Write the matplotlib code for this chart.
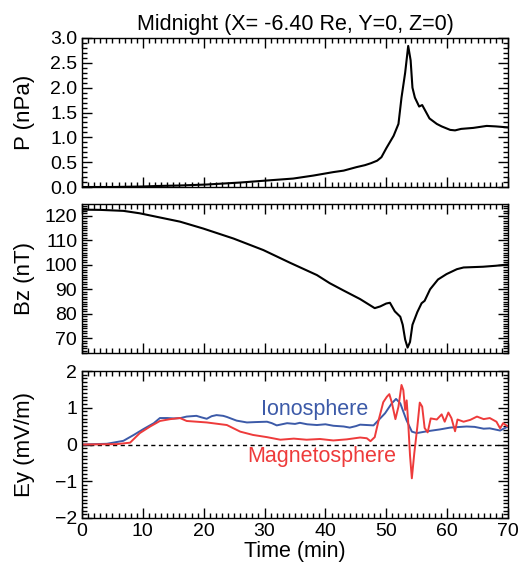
import matplotlib
matplotlib.use("Agg")
import matplotlib.pyplot as plt
from matplotlib.ticker import MultipleLocator

plt.rcParams['font.family'] = ['Liberation Sans', 'DejaVu Sans']

# ---------------- data ----------------
p_time = [0, 5, 10, 12.3, 16, 20.5, 26, 30.3, 34.7, 38, 41.3, 43, 45.1, 46.5, 47.5,
          48.5, 49.2, 50, 51.2, 52, 52.5, 53.1, 53.6, 54, 54.3, 54.7, 55.4, 55.9,
          56.3, 57.1, 58.3, 59.1, 60.5, 61.3, 62.3, 64.3, 66.5, 68, 70]
p_vals = [0.0, 0.0, 0.01, 0.02, 0.03, 0.05, 0.09, 0.13, 0.17, 0.23, 0.30, 0.33, 0.40,
          0.44, 0.48, 0.53, 0.60, 0.78, 1.03, 1.27, 1.80, 2.30, 2.84, 2.55, 2.00,
          1.80, 1.62, 1.65, 1.56, 1.38, 1.27, 1.22, 1.15, 1.14, 1.17, 1.19, 1.23,
          1.22, 1.20]

bz_time = [0, 3, 6.8, 9.5, 12.8, 16.1, 19.9, 24.9, 29.8, 34.2, 38.6, 40.7, 42.9, 45.7,
           48.1, 49.0, 50.0, 50.6, 51.4, 52.3, 52.7, 53.1, 53.5, 53.9, 54.3, 55.1,
           55.8, 56.3, 57.2, 58.5, 59.9, 61.6, 62.7, 65.9, 68, 70]
bz_vals = [122.5, 122.4, 122.0, 121.0, 119.3, 117.6, 114.8, 110.7, 106.0, 100.8, 95.8,
           92.5, 89.6, 86.0, 82.3, 83.0, 84.2, 84.5, 81.0, 78.8, 75.5, 69.5, 66.2,
           68.5, 75.5, 80.7, 84.3, 85.3, 90.0, 94.0, 96.2, 98.2, 98.9, 99.2, 99.6,
           100.1]

iono_time = [0, 4.1, 6.8, 8.5, 10.1, 11.8, 12.8, 14, 15.1, 16.2, 17.2, 18.8, 19.6, 20.5,
             21.3, 22.1, 23.2, 23.8, 25.4, 27.1, 28.5, 30.4, 31.2, 32.0, 33.7, 35,
             35.8, 37, 38.6, 40, 41.3, 43, 44.0, 45, 45.7, 47.9, 49.8, 50.9, 51.6,
             52.3, 53.3, 54.2, 55.0, 56.7, 58.8, 60.5, 63.2, 64.5, 66.0, 67, 68.7, 70]
iono_vals = [0.0, 0.02, 0.10, 0.26, 0.42, 0.58, 0.72, 0.72, 0.71, 0.72, 0.76, 0.78, 0.74,
             0.70, 0.77, 0.80, 0.78, 0.75, 0.65, 0.60, 0.61, 0.62, 0.58, 0.52, 0.58,
             0.56, 0.59, 0.55, 0.53, 0.55, 0.51, 0.49, 0.46, 0.50, 0.54, 0.52, 0.85,
             1.12, 1.24, 1.12, 0.67, 0.35, 0.31, 0.36, 0.41, 0.46, 0.49, 0.48, 0.43,
             0.44, 0.38, 0.49]

mag_time = [0, 5.7, 7.9, 9.5, 11.2, 12.8, 14.5, 16.1, 17.2, 20.5, 23.8, 26.0, 28.1,
            30.4, 32.6, 34.8, 36.9, 39.1, 41.3, 43.5, 45.7, 46.8, 47.4, 48.1, 48.8,
            49.5, 50.1, 50.5, 50.9, 51.5, 52.0, 52.5, 52.8, 53.1, 53.35, 53.6, 53.9,
            54.2, 54.6, 55.1, 55.5, 55.9, 56.3, 56.8, 57.3, 58.3, 59.1, 59.6, 60.2,
            60.7, 61.3, 61.7, 62.7, 63.8, 64.9, 66.0, 67.0, 68.1, 68.7, 69.2, 70]
mag_vals = [0.0, 0.01, 0.05, 0.31, 0.49, 0.64, 0.69, 0.72, 0.64, 0.60, 0.53, 0.35, 0.26,
            0.20, 0.13, 0.16, 0.13, 0.15, 0.11, 0.14, 0.19, 0.17, 0.09, 0.20, 0.70,
            1.15, 1.30, 1.37, 1.15, 0.69, 1.03, 1.62, 1.48, 0.94, 1.20, 0.60, -0.30,
            -0.92, -0.24, 0.48, 1.14, 1.03, 0.45, 0.33, 0.71, 0.68, 0.82, 0.62, 0.87,
            0.72, 0.36, 0.68, 0.62, 0.67, 0.76, 0.69, 0.72, 0.62, 0.44, 0.58, 0.49]

title = "Midnight (X= -6.40 Re, Y=0, Z=0)"
xticks = [0, 10, 20, 30, 40, 50, 60, 70]

BLUE = "#3c5aa8"
RED = "#ee3b3b"

# ---------------- figure ----------------
W, H = 526, 568
fig = plt.figure(figsize=(W / 100, H / 100), dpi=100)

def px_axes(top, bottom, left=82, right=508):
    return fig.add_axes([left / W, 1 - bottom / H, (right - left) / W, (bottom - top) / H])

ax1 = px_axes(38, 187)
ax2 = px_axes(204, 353)
ax3 = px_axes(371, 518)

TICK_FS = 14
LABEL_FS = 15.5
YLAB_FS = 16

for ax in (ax1, ax2, ax3):
    ax.set_xlim(0, 70)
    ax.xaxis.set_major_locator(MultipleLocator(10))
    ax.xaxis.set_minor_locator(MultipleLocator(1))
    ax.tick_params(which='both', direction='in', top=True, right=True, colors='black',
                   labelsize=TICK_FS, width=1.0)
    ax.tick_params(which='major', length=7)
    ax.tick_params(which='minor', length=3.5)
    for s in ax.spines.values():
        s.set_linewidth(1.0)

ax1.plot(p_time, p_vals, color='black', lw=1.5)
ax1.set_ylim(0, 3.0)
ax1.yaxis.set_major_locator(MultipleLocator(0.5))
ax1.yaxis.set_minor_locator(MultipleLocator(0.1))
ax1.set_yticklabels([f"{v:.1f}" for v in ax1.get_yticks()])
ax1.tick_params(labelbottom=False)
ax1.set_title(title, fontsize=LABEL_FS, pad=6)

ax2.plot(bz_time, bz_vals, color='black', lw=1.5)
ax2.set_ylim(64.0, 124.8)
ax2.yaxis.set_major_locator(MultipleLocator(10))
ax2.yaxis.set_minor_locator(MultipleLocator(1))
ax2.tick_params(labelbottom=False)

ax3.axhline(0, color='black', lw=1.0, ls=(0, (3, 2.5)))
ax3.plot(iono_time, iono_vals, color=BLUE, lw=1.4)
ax3.plot(mag_time, mag_vals, color=RED, lw=1.4)
ax3.set_ylim(-2, 2)
ax3.yaxis.set_major_locator(MultipleLocator(1))
ax3.yaxis.set_minor_locator(MultipleLocator(0.1))
ax3.set_xticks(xticks)
ax3.set_xlabel("Time (min)", fontsize=LABEL_FS, labelpad=1)
ax3.text(38.3, 0.96, "Ionosphere", color=BLUE, fontsize=LABEL_FS, ha='center', va='center')
ax3.text(39.4, -0.33, "Magnetosphere", color=RED, fontsize=LABEL_FS, ha='center', va='center')

for ax, lab in ((ax1, "P (nPa)"), (ax2, "Bz (nT)"), (ax3, "Ey (mV/m)")):
    ax.set_ylabel(lab, fontsize=YLAB_FS)
    ax.yaxis.set_label_coords(-0.11, 0.5)

fig.savefig("out.png", dpi=100)
